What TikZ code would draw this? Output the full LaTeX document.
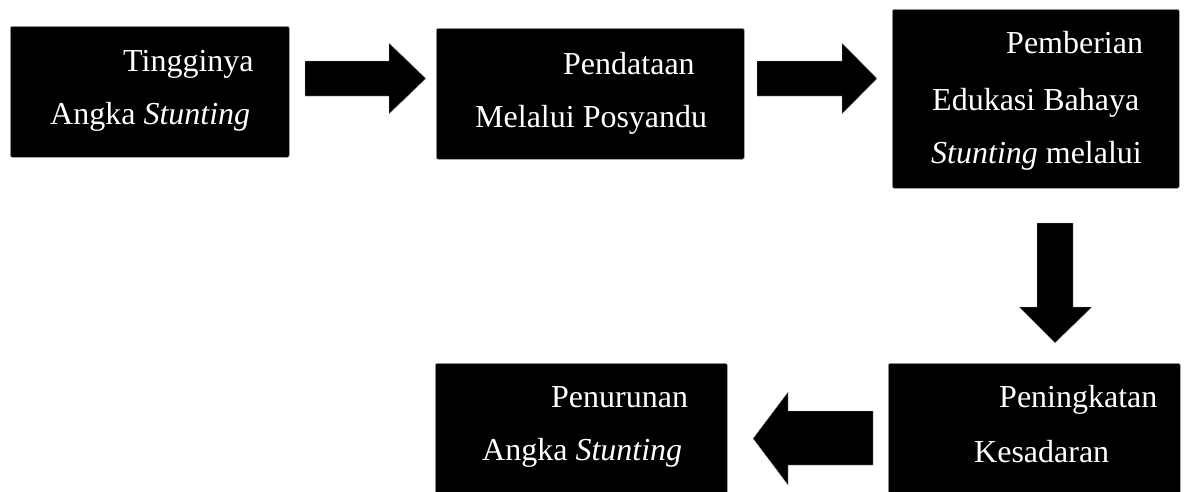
\documentclass[tikz,border=0pt]{standalone}
\usepackage{fontspec}
\setmainfont{Liberation Serif}
\begin{document}
\begin{tikzpicture}[x=1pt,y=-1pt,
  box/.style={draw=gray!70,line width=0.6pt,fill=black,rounded corners=2pt,inner sep=0pt,anchor=north west},
  txt/.style={text=white,font=\fontsize{32}{40}\selectfont,inner sep=0pt,anchor=base west},
  blk/.style={fill=black,draw=gray!60,line width=0.4pt}]
\useasboundingbox (0,0) rectangle (1184,491);
\clip (0,0) rectangle (1184,491);
% boxes
\node[box,minimum width=279pt,minimum height=131pt] (b1) at (10,26) {};
\node[box,minimum width=308pt,minimum height=131pt] (b2) at (436,28) {};
\node[box,minimum width=287pt,minimum height=179pt] (b3) at (892,9) {};
\node[box,minimum width=292pt,minimum height=140pt] (b4) at (888,363) {};
\node[box,minimum width=292pt,minimum height=140pt] (b5) at (435,363) {};
% texts
\node[txt] (t1a) at (123,71) {Tingginya};
\node[txt] (t1b) at (50,124) {Angka \textit{Stunting}};
\node[txt] (t2a) at (563,74) {Pendataan};
\node[txt] (t2b) at (475,127) {Melalui Posyandu};
\node[txt] (t3a) at (1006,53) {Pemberian};
\node[txt] (t3b) at (932,110) {Edukasi Bahaya};
\node[txt] (t3c) at (931,163) {\textit{Stunting} melalui};
\node[txt] (t4a) at (999,407) {Peningkatan};
\node[txt] (t4b) at (974,462) {Kesadaran};
\node[txt] (t5a) at (551,407) {Penurunan};
\node[txt] (t5b) at (482,460) {Angka \textit{Stunting}};
% block arrows
\draw[blk] (305,61) -- (389,61) -- (389,43) -- (426,78.5) -- (389,114) -- (389,96) -- (305,96) -- cycle;
\draw[blk] (757,61) -- (842,61) -- (842,43) -- (877,78.5) -- (842,114) -- (842,96) -- (757,96) -- cycle;
\draw[blk] (1037,223) -- (1073,223) -- (1073,307) -- (1092,307) -- (1055,343) -- (1019,307) -- (1037,307) -- cycle;
\draw[blk] (873,411) -- (788,411) -- (788,392) -- (753,438.5) -- (788,485) -- (788,465) -- (873,465) -- cycle;
\end{tikzpicture}
\end{document}
